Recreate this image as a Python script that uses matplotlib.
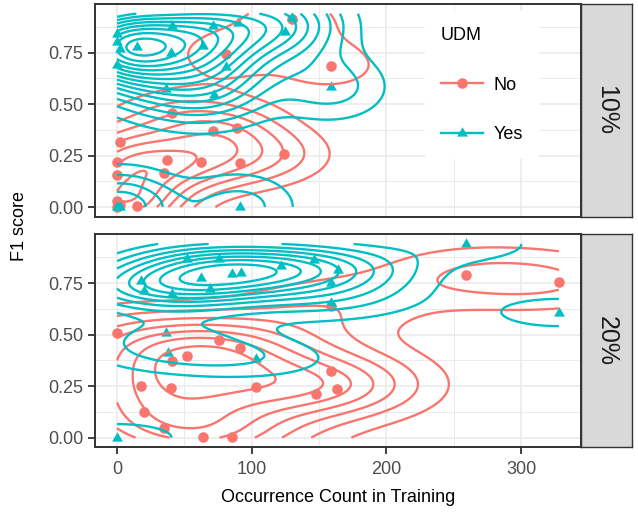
import numpy as np
import matplotlib
matplotlib.use("Agg")
import matplotlib.pyplot as plt
from matplotlib.lines import Line2D

plt.rcParams["font.family"] = ["Liberation Sans", "DejaVu Sans"]

# ---------------- data ----------------
facets = ["10%", "20%"]
groups = ["No", "Yes"]

no10_x = [130, 81, 159, 41, 71, 89, 2, 124, 37, 62, 91, 0, 0, 35, 0, 2, 15, 0]
no10_y = [0.914, 0.745, 0.688, 0.455, 0.369, 0.382, 0.317, 0.256, 0.230, 0.218,
          0.213, 0.220, 0.156, 0.164, 0.027, 0.011, 0.003, 0.000]

yes10_x = [0, 0, 2, 0, 15, 41, 40, 71, 90, 64, 81, 125, 130, 36, 72, 91, 0, 2, 159]
yes10_y = [0.840, 0.800, 0.770, 0.690, 0.777, 0.880, 0.748, 0.882, 0.897, 0.785,
           0.680, 0.849, 0.920, 0.575, 0.543, 0.000, 0.000, 0.000, 0.583]

no20_x = [0, 76, 91, 41, 52, 18, 40, 103, 20, 35, 64, 85, 159, 148, 163, 259, 328, 159]
no20_y = [0.510, 0.473, 0.434, 0.373, 0.397, 0.250, 0.240, 0.244, 0.123, 0.048,
          0.005, 0.005, 0.324, 0.211, 0.236, 0.789, 0.757, 0.639]

yes20_x = [18, 20, 41, 62, 69, 85, 92, 76, 52, 122, 146, 164, 159, 159, 36, 38, 103,
           0, 259, 328]
yes20_y = [0.760, 0.711, 0.695, 0.777, 0.721, 0.792, 0.800, 0.865, 0.865, 0.832,
           0.864, 0.816, 0.752, 0.655, 0.510, 0.413, 0.381, 0.000, 0.940, 0.607]

x_ticks = [0, 100, 200, 300]
y_ticks = [0.00, 0.25, 0.50, 0.75]
y_tick_labels = ["0.00", "0.25", "0.50", "0.75"]

panel_data = {
    "10%": {"No": (no10_x, no10_y), "Yes": (yes10_x, yes10_y)},
    "20%": {"No": (no20_x, no20_y), "Yes": (yes20_x, yes20_y)},
}

colors = {"No": "#F8766D", "Yes": "#00BFC4"}
markers = {"No": "o", "Yes": [(0, 1), (-0.866, -0.5), (0.866, -0.5)]}
msize = {"No": 7.6, "Yes": 9.0}
# contour break rule per panel / group
contour_spec = {("10%", "No"): ("pretty", 10), ("10%", "Yes"): ("pretty", 15),
                ("20%", "No"): ("pretty", 10), ("20%", "Yes"): ("bins", 11)}


# ---------------- density (MASS::kde2d style) ----------------
def bw_nrd(v):
    v = np.asarray(v, float)
    q = np.quantile(v, [0.25, 0.75])
    h = (q[1] - q[0]) / 1.34
    return 4 * 1.06 * min(np.std(v, ddof=1), h) * len(v) ** (-0.2)


def kde2d(x, y, lims, n=100):
    x = np.asarray(x, float)
    y = np.asarray(y, float)
    h = np.array([bw_nrd(x), bw_nrd(y)]) / 4.0
    gx = np.linspace(lims[0], lims[1], n)
    gy = np.linspace(lims[2], lims[3], n)
    ax_ = (gx[:, None] - x[None, :]) / h[0]
    ay_ = (gy[:, None] - y[None, :]) / h[1]
    dn = lambda u: np.exp(-0.5 * u * u) / np.sqrt(2 * np.pi)
    z = dn(ax_) @ dn(ay_).T / (len(x) * h[0] * h[1])
    return gx, gy, z


def r_pretty(lo, hi, n=10):
    hb = 1.5
    h5 = 0.5 + 1.5 * hb
    cell = (hi - lo) / n
    base = 10 ** np.floor(np.log10(cell))
    unit = base
    if 2 * base - cell < hb * (cell - unit):
        unit = 2 * base
        if 5 * base - cell < h5 * (cell - unit):
            unit = 5 * base
            if 10 * base - cell < hb * (cell - unit):
                unit = 10 * base
    ns = np.floor(lo / unit + 1e-7)
    nu = np.ceil(hi / unit - 1e-7)
    return np.arange(ns, nu + 0.5) * unit


def contour_levels(z, spec):
    kind, n = spec
    lo, hi = z.min(), z.max()
    if kind == "pretty":
        lv = r_pretty(lo, hi, n)
    else:
        bw = (hi - lo) / (n - 1)
        lv = np.arange(np.floor(lo / bw), np.ceil(hi / bw) + 0.5) * bw
    return lv[(lv > lo) & (lv < hi)]


all_x = np.concatenate([np.asarray(panel_data[f][g][0], float) for f in facets for g in groups])
all_y = np.concatenate([np.asarray(panel_data[f][g][1], float) for f in facets for g in groups])
lims = (all_x.min(), all_x.max(), all_y.min(), all_y.max())

dens = {}
for f in facets:
    for g in groups:
        gx, gy, z = kde2d(*panel_data[f][g], lims)
        dens[(f, g)] = (gx, gy, z, contour_levels(z, contour_spec[(f, g)]))

# ---------------- figure ----------------
fig = plt.figure(figsize=(6.38, 5.12), dpi=100)
W, H = 638, 512
left, right = 95, 581
panel_px = {"10%": (4, 216.7), "20%": (234.3, 447.3)}
strip_right = 632

dx = lims[1] - lims[0]
dy = lims[3] - lims[2]
xlim = (lims[0] - 0.05 * dx, lims[1] + 0.05 * dx)
ylim = (lims[2] - 0.05 * dy, lims[3] + 0.05 * dy)

border_col = "#333333"
axes = {}
for i, f in enumerate(facets):
    top, bot = panel_px[f]
    ax = fig.add_axes([left / W, 1 - bot / H, (right - left) / W, (bot - top) / H])
    axes[f] = ax
    ax.set_xlim(xlim)
    ax.set_ylim(ylim)
    ax.set_xticks(x_ticks)
    ax.set_xticks([50, 150, 250], minor=True)
    ax.set_yticks(y_ticks)
    ax.set_yticklabels(y_tick_labels)
    ax.set_yticks([0.125, 0.375, 0.625, 0.875], minor=True)
    ax.grid(which="major", color="#EBEBEB", linewidth=1.2)
    ax.grid(which="minor", color="#EBEBEB", linewidth=0.7)
    ax.set_axisbelow(True)
    for s in ax.spines.values():
        s.set_color(border_col)
        s.set_linewidth(1.4)
    ax.tick_params(which="major", length=5, width=1.3, color=border_col,
                   labelsize=13, labelcolor="#4D4D4D", pad=3.5)
    ax.tick_params(which="minor", length=0)
    if i == 0:
        ax.tick_params(axis="x", which="both", bottom=False, labelbottom=False)
    else:
        ax.tick_params(axis="x", pad=5)

    for g in groups:
        xs, ys = panel_data[f][g]
        ax.plot(xs, ys, linestyle="none", marker=markers[g], markersize=msize[g],
                color=colors[g], markeredgewidth=0, zorder=2)
    for g in groups:
        gx, gy, z, lv = dens[(f, g)]
        ax.contour(gx, gy, z.T, levels=lv, colors=colors[g], linewidths=1.7,
                   zorder=3)

    # strip
    sax = fig.add_axes([right / W, 1 - bot / H, (strip_right - right) / W, (bot - top) / H])
    sax.set_facecolor("#D9D9D9")
    sax.set_xticks([])
    sax.set_yticks([])
    for s in sax.spines.values():
        s.set_color(border_col)
        s.set_linewidth(1.0)
    sax.text(0.5, 0.5, f, rotation=-90, ha="center", va="center", fontsize=18,
             color="#1A1A1A", transform=sax.transAxes)

# legend
handles = [Line2D([], [], color=colors[g], linewidth=1.7, marker=markers[g],
                  markersize=msize[g], markeredgewidth=0) for g in groups]
leg = axes["10%"].legend(handles, groups, title="UDM", loc="upper left",
                         bbox_to_anchor=(0.66, 1.01), fontsize=13, title_fontsize=13,
                         frameon=True, fancybox=False, framealpha=1, edgecolor="none",
                         facecolor="white", handlelength=2.3, handletextpad=0.6,
                         labelspacing=1.8, borderpad=0.9, alignment="left")
leg.set_zorder(5)

fig.text(20 / W, 1 - 225.7 / H, "F1 score", rotation=90, ha="center", va="center",
         fontsize=13, color="black")
fig.text((left + right) / 2 / W, 1 - 497 / H, "Occurrence Count in Training",
         ha="center", va="center", fontsize=13, color="black")

fig.savefig("out.png", dpi=100)
